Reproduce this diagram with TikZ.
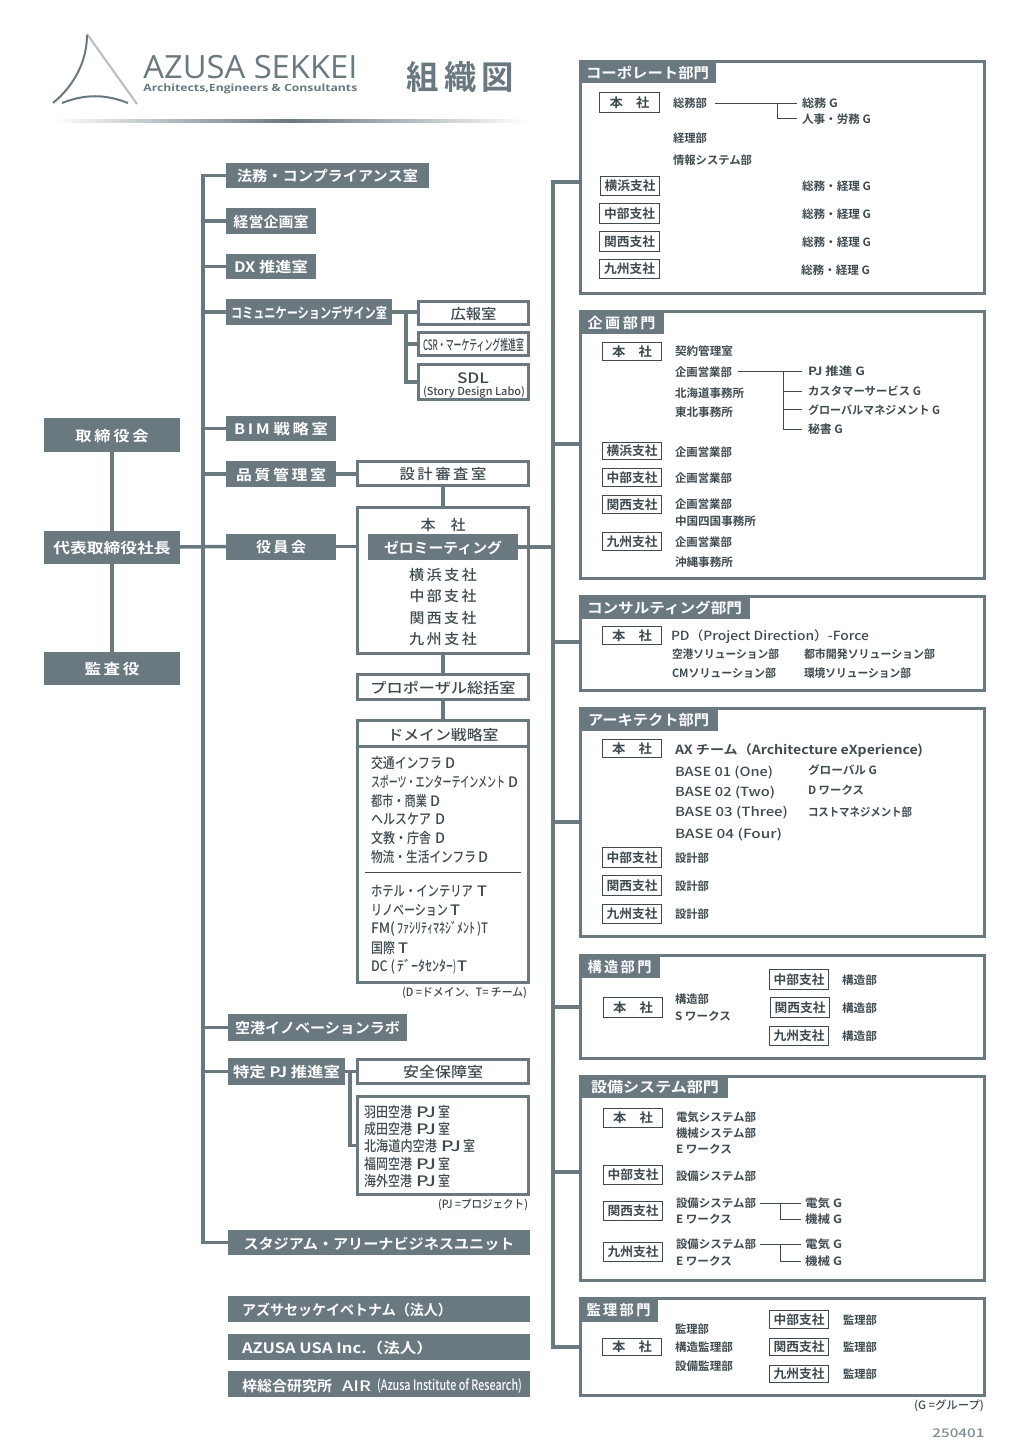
\documentclass[tikz,border=0pt]{standalone}
\usepackage{graphicx}
\usepackage{fontspec}
\setmainfont{Noto Sans CJK JP Medium}[BoldFont={Noto Sans CJK JP Bold}]
\newfontfamily\logofont{Open Sans}
\definecolor{slate}{HTML}{6A7880}
\definecolor{ink}{HTML}{3F4A50}
\definecolor{pale}{HTML}{B9BDBF}
\newdimen\pxu \pxu=0.5pt
\def\vadj{0pt}
\newcommand\tw[2]{\raisebox{\vadj}[\height][\depth]{\resizebox{#1\pxu}{\height}{#2}}}
\newcommand\hs[1]{\hspace{#1\pxu}}
\newcommand\fsA{\fontsize{5.7}{7}\selectfont\bfseries\def\vadj{0pt}}
\newcommand\fsB{\fontsize{6.3}{8}\selectfont\bfseries\def\vadj{0pt}}
\newcommand\fsC{\fontsize{7.2}{9}\selectfont\bfseries\def\vadj{-0.5pt}}
\newcommand\fsD{\fontsize{7.2}{9}\selectfont\def\vadj{-0.5pt}}
\newcommand\rawbox[8]{%
 \pgfmathsetmacro\myCx{(#4+#6)/2}\pgfmathsetmacro\myCy{(#5+#7)/2}%
 \pgfmathsetmacro\myWw{(#6-#4-#2)*0.5}\pgfmathsetmacro\myHh{(#7-#5-#2)*0.5}%
 \node[#1,minimum width=\myWw pt,minimum height=\myHh pt,inner sep=0,outer sep=0] (#3) at (\myCx,\myCy) {#8};}
\newcommand\band[6]{\rawbox{bandbox}{0}{#1}{#2}{#3}{#4}{#5}{#6}}
\newcommand\framed[6]{\rawbox{framebox}{3}{#1}{#2}{#3}{#4}{#5}{#6}}
\newcommand\smbx[6]{\rawbox{smallbox}{1}{#1}{#2}{#3}{#4}{#5}{#6}}
\newcommand\tx[6][]{\node[lab,#1] (#2) at (#3,#4) {\tw{#5}{#6}};}
\newcommand\tn[5][plainlab]{\node[#1] (#2) at (#3,#4) {#5};}
\newcommand\pjline[4]{\tn{#1}{364}{#2}{\tw{#3}{#4}\hs{4}\tw{20}{PJ}\hs{2}\tw{12}{室}}}
\tikzset{
 bandbox/.style={fill=slate,text=white,font=\fsC},
 framebox/.style={draw=slate,line width=1.5pt,text=ink,font=\fsD},
 smallbox/.style={draw=ink,line width=0.5pt,fill=white,text=ink,font=\fsB},
 lab/.style={anchor=west,inner sep=0,outer sep=0,text=ink,font=\fsA},
 plainlab/.style={anchor=west,inner sep=0,outer sep=0,text=ink,font=\fsD},
 cn/.style={anchor=center},
 whitelab/.style={text=white,font=\fsC},
 wire/.style={draw=slate,line width=1.75pt},
 thinwire/.style={draw=ink,line width=0.45pt}
}
\begin{document}
\begin{tikzpicture}[x=0.5pt,y=-0.5pt]
\useasboundingbox (0,0) rectangle (1027,1454);
% logo
\draw[pale,line width=1pt] (87,34) -- (137,104);
\draw[slate,line width=1pt] (87,35) .. controls (87,60) and (75,85) .. (53,103);
\draw[slate,line width=1pt] (62,103) .. controls (85,94) and (105,94) .. (128,103);
\node[anchor=west,inner sep=0,text=slate,font=\logofont\fontsize{16}{18}\selectfont] (logoA) at (143,67) {\tw{214}{AZUSA SEKKEI}};
\node[anchor=west,inner sep=0,text=slate,font=\logofont\fontsize{5}{6}\selectfont\bfseries] (logoB) at (143,89) {\tw{214}{Architects,Engineers \& Consultants}};
\node[anchor=west,inner sep=0,text=slate,font=\fontsize{16.5}{18}\selectfont\bfseries] (orgtitle) at (406,77) {\tw{108}{組\,織\,図}};
\shade[left color=white,right color=white,middle color=slate] (52,119.5) rectangle (528,122.5);
% left column
\band{torishimari}{44}{418}{180}{452}{\tw{73}{取\,締\,役\,会}}
\band{president}{44}{530.5}{180}{563.5}{\tw{117}{代表取締役社長}}
\band{auditor}{44}{652}{180}{685}{\tw{55}{監\,査\,役}}
% staff offices
\band{legal}{226}{163}{429}{188}{\tw{181}{法務・コンプライアンス室}\hs{2}}
\band{mgmt}{226}{208}{316}{234}{\tw{75}{経営企画室}\hs{2}}
\band{dx}{226}{254}{316}{279}{\tw{74}{DX 推進室}\hs{2}}
\band{comm}{226}{299}{392}{325}{\tw{156}{コミュニケーションデザイン室}\hs{4}}
\framed{pr}{417}{300}{530}{326}{\tw{46}{広報室}}
\framed{csr}{417}{331}{530}{357}{\tw{101}{CSR・マーケティング推進室}}
\framed{sdl}{417}{363}{530}{401}{}
\node[plainlab,cn] (sdlA) at (473,377) {\tw{32}{SDL}};
\node[plainlab,cn,font=\fontsize{5.5}{6}\selectfont] (sdlB) at (474,392) {\tw{102}{(Story Design Labo)}};
\band{bim}{226}{416}{336}{441}{\tw{94}{B\,I\,M 戦\,略\,室}}
\band{quality}{226}{461}{336}{487}{\tw{90}{品\,質\,管\,理\,室}}
\framed{review}{356}{460}{530}{487}{\tw{87}{設\,計\,審\,査\,室}}
\band{officers}{226}{533.5}{336}{559.5}{\tw{50}{役\,員\,会}}
\framed{hq}{356}{506}{530}{655}{}
\node[plainlab,cn] (hqA) at (443,524) {\tw{45}{本\hspace{1em}社}};
\band{zero}{368}{534}{518}{560}{\tw{118}{ゼロミーティング}}
\node[plainlab,cn] (hqB) at (443,574) {\tw{68}{横\,浜\,支\,社}};
\node[plainlab,cn] (hqC) at (443,595) {\tw{67}{中\,部\,支\,社}};
\node[plainlab,cn] (hqD) at (443,617) {\tw{67}{関\,西\,支\,社}};
\node[plainlab,cn] (hqE) at (443,638) {\tw{68}{九\,州\,支\,社}};
\framed{proposal}{356}{673}{530}{701}{\tw{145}{プロポーザル総括室}}
\framed{domain}{356}{719}{530}{984}{}
\draw[wire,line width=1.5pt] (357,746) -- (529,746);
\node[plainlab,cn] (domT) at (443,734) {\tw{111}{ドメイン戦略室}};
\tn{d1}{371}{762}{\tw{71}{交通インフラ}\hs{3}\tw{10}{D}}
\tn{d2}{371}{781}{\tw{134}{スポーツ・エンターテインメント}\hs{3}\tw{10}{D}}
\tn{d3}{371}{800}{\tw{56}{都市・商業}\hs{3}\tw{10}{D}}
\tn{d4}{371}{818}{\tw{60}{ヘルスケア}\hs{4}\tw{10}{D}}
\tn{d5}{371}{837}{\tw{60}{文教・庁舎}\hs{4}\tw{10}{D}}
\tn{d6}{371}{856}{\tw{105}{物流・生活インフラ}\hs{2}\tw{10}{D}}
\draw[ink,line width=0.3pt] (365,872.5) -- (521,872.5);
\tn{t1}{371}{890}{\tw{102}{ホテル・インテリア}\hs{4}\tw{10}{T}}
\tn{t2}{371}{909}{\tw{77}{リノベーション}\hs{2}\tw{10}{T}}
\tn{t3}{371}{928}{\tw{24}{FM(}\hs{2}\tw{78}{ﾌｧｼﾘﾃｨﾏﾈｼﾞﾒﾝﾄ}\hs{2}\tw{11}{)T}}
\tn{t4}{371}{947}{\tw{24}{国際}\hs{3}\tw{10}{T}}
\tn{t5}{371}{966}{\tw{24}{DC (}\hs{2}\tw{56}{ﾃﾞｰﾀｾﾝﾀｰ}\tw{3}{)}\hs{1}\tw{10}{T}}
\tx{domnote}{402}{993}{125}{\mdseries (D =ドメイン、T= チーム)}
\band{lab2}{228}{1014}{407}{1041}{\tw{165}{空港イノベーションラボ}\hs{6}}
\band{pjoffice}{228}{1058}{345}{1085}{\tw{107}{特定 PJ 推進室}\hs{2}}
\framed{safety}{356}{1058}{530}{1085}{\tw{80}{安全保障室}}
\framed{pjlist}{356}{1095}{530}{1196}{}
\pjline{p1}{1111}{48}{羽田空港}
\pjline{p2}{1128}{48}{成田空港}
\pjline{p3}{1145}{73}{北海道内空港}
\pjline{p4}{1163}{48}{福岡空港}
\pjline{p5}{1180}{48}{海外空港}
\tx{pjnote}{438}{1205}{90}{\mdseries (PJ =プロジェクト)}
\band{stadium}{228}{1230}{530}{1255}{\tw{271}{スタジアム・アリーナビジネスユニット}\hs{4}}
\band{vietnam}{228}{1296}{530}{1322}{}
\tx[whitelab]{vietnamT}{242}{1309}{210}{アズサセッケイベトナム（法人）}
\band{usa}{228}{1334}{530}{1360}{}
\tx[whitelab]{usaT}{242}{1347}{191}{AZUSA USA Inc.（法人）}
\band{air}{228}{1371}{530}{1397}{}
\tx[whitelab]{airA}{242}{1385}{90}{梓総合研究所}
\tx[whitelab,font=\fsD]{airB}{342}{1385}{29}{AIR}
\tx[whitelab,font=\fsD]{airC}{377}{1385}{145}{(Azusa Institute of Research)}
% divisions
\framed{corp}{579}{60}{986}{295}{}
\band{corpT}{579}{60}{716}{83}{\tw{123}{コーポレート部門}\hs{2}}
\smbx{corpA}{599}{92}{660}{113}{\tw{40}{本\hspace{1em}社}}
\smbx{corpB}{600}{176}{660}{196}{\tw{51}{横浜支社}}
\smbx{corpC}{599}{203}{660}{224}{\tw{51}{中部支社}}
\smbx{corpD}{599}{231}{660}{252}{\tw{51}{関西支社}}
\smbx{corpE}{599}{259}{660}{279}{\tw{51}{九州支社}}
\tx{c1}{673}{103}{34}{総務部}
\tx{c2}{673}{138}{34}{経理部}
\tx{c3}{673}{160}{79}{情報システム部}
\tx{c4}{802}{103}{36}{総務 G}
\tx{c5}{802}{119}{69}{人事・労務 G}
\tx{c6}{802}{186}{69}{総務・経理 G}
\tx{c7}{802}{214}{69}{総務・経理 G}
\tx{c8}{802}{242}{69}{総務・経理 G}
\tx{c9}{801}{270}{69}{総務・経理 G}
\coordinate (cj) at (777,103);
\draw[thinwire] (715,103) -- (797,103);
\draw[thinwire] (cj) |- (797,118);
%
\framed{plan}{579}{310}{986}{580}{}
\band{planT}{579}{310}{664}{334}{\tw{68}{企\,画\,部\,門}}
\smbx{planA}{602}{342}{662}{361}{\tw{40}{本\hspace{1em}社}}
\smbx{planB}{602}{442}{662}{460}{\tw{51}{横浜支社}}
\smbx{planC}{602}{468}{662}{487}{\tw{51}{中部支社}}
\smbx{planD}{602}{495}{662}{514}{\tw{51}{関西支社}}
\smbx{planE}{602}{532}{662}{551}{\tw{51}{九州支社}}
\tx{k1}{675}{351}{58}{契約管理室}
\tx{k2}{675}{372}{57}{企画営業部}
\tx{k3}{675}{393}{69}{北海道事務所}
\tx{k4}{675}{412}{58}{東北事務所}
\tx{k5}{675}{452}{57}{企画営業部}
\tx{k6}{675}{478}{57}{企画営業部}
\tx{k7}{675}{504}{57}{企画営業部}
\tx{k8}{675}{521}{81}{中国四国事務所}
\tx{k9}{675}{542}{57}{企画営業部}
\tx{k10}{675}{562}{58}{沖縄事務所}
\tx{k11}{808}{371}{57}{PJ 推進 G}
\tx{k12}{808}{391}{113}{カスタマーサービス G}
\tx{k13}{808}{410}{132}{グローバルマネジメント G}
\tx{k14}{808}{429}{35}{秘書 G}
\coordinate (kj) at (783,371);
\draw[thinwire] (738,371) -- (802,371);
\draw[thinwire] (kj) |- (802,429);
\draw[thinwire] (783,391) -- (802,391);
\draw[thinwire] (783,409) -- (802,409);
%
\framed{cons}{579}{595}{986}{692}{}
\band{consT}{579}{595}{750}{619}{\tw{155}{コンサルティング部門}}
\smbx{consA}{602}{626}{662}{645}{\tw{40}{本\hspace{1em}社}}
\tx{n1}{671}{636.5}{198}{\fsB\mdseries PD（Project Direction）-Force}
\tx{n2}{672}{654}{107}{空港ソリューション部}
\tx{n3}{804}{654}{131}{都市開発ソリューション部}
\tx{n4}{672}{673}{104}{CMソリューション部}
\tx{n5}{804}{673}{107}{環境ソリューション部}
%
\framed{arch}{579}{707}{986}{938}{}
\band{archT}{579}{707}{718}{731}{\tw{121}{アーキテクト部門}\hs{1}}
\smbx{archA}{602}{739}{662}{758}{\tw{40}{本\hspace{1em}社}}
\smbx{archB}{602}{847}{662}{868}{\tw{51}{中部支社}}
\smbx{archC}{602}{875}{662}{896}{\tw{51}{関西支社}}
\smbx{archD}{602}{904}{662}{924}{\tw{51}{九州支社}}
\tx{a1}{675}{750}{248}{\fsB AX チーム（Architecture eXperience)}
\tx{a2}{675}{772.5}{98}{\fsB\mdseries BASE 01 (One)}
\tx{a3}{675}{792.5}{100}{\fsB\mdseries BASE 02 (Two)}
\tx{a4}{675}{812.5}{113}{\fsB\mdseries BASE 03 (Three)}
\tx{a5}{675}{834.5}{107}{\fsB\mdseries BASE 04 (Four)}
\tx{a6}{808}{770}{69}{グローバル G}
\tx{a7}{808}{790}{56}{D ワークス}
\tx{a8}{808}{812}{104}{コストマネジメント部}
\tx{a9}{675}{858}{34}{設計部}
\tx{a10}{675}{886}{34}{設計部}
\tx{a11}{675}{914}{34}{設計部}
%
\framed{struct}{579}{954}{986}{1060}{}
\band{structT}{579}{954}{660}{978}{\tw{64}{構\,造\,部\,門}\hs{1}}
\smbx{structA}{603}{997}{663}{1018}{\tw{40}{本\hspace{1em}社}}
\smbx{structB}{769}{969}{829}{990}{\tw{51}{中部支社}}
\smbx{structC}{770}{997}{830}{1018}{\tw{51}{関西支社}}
\smbx{structD}{769}{1026}{829}{1046}{\tw{51}{九州支社}}
\tx{s1}{675}{999}{34}{構造部}
\tx{s2}{675}{1016}{56}{S ワークス}
\tx{s3}{842}{980}{35}{構造部}
\tx{s4}{842}{1008}{35}{構造部}
\tx{s5}{842}{1036}{35}{構造部}
%
\framed{equip}{579}{1075}{986}{1282}{}
\band{equipT}{579}{1075}{728}{1098}{\hs{3}\tw{128}{設備システム部門}}
\smbx{equipA}{603}{1108}{663}{1128}{\tw{40}{本\hspace{1em}社}}
\smbx{equipB}{603}{1165}{663}{1185}{\tw{51}{中部支社}}
\smbx{equipC}{603}{1201}{663}{1221}{\tw{51}{関西支社}}
\smbx{equipD}{603}{1242}{663}{1262}{\tw{51}{九州支社}}
\tx{e1}{676}{1117}{80}{電気システム部}
\tx{e2}{676}{1133}{80}{機械システム部}
\tx{e3}{676}{1149}{56}{E ワークス}
\tx{e4}{676}{1176}{80}{設備システム部}
\tx{e5}{676}{1203}{80}{設備システム部}
\tx{e6}{676}{1219}{56}{E ワークス}
\tx{e7}{676}{1244}{80}{設備システム部}
\tx{e8}{676}{1261}{56}{E ワークス}
\tx{e9}{805}{1203}{37}{電気 G}
\tx{e10}{805}{1219}{37}{機械 G}
\tx{e11}{805}{1244}{37}{電気 G}
\tx{e12}{805}{1261}{37}{機械 G}
\coordinate (ej1) at (780,1203);
\coordinate (ej2) at (780,1244);
\draw[thinwire] (760,1203) -- (801,1203);
\draw[thinwire] (ej1) |- (801,1219);
\draw[thinwire] (760,1244) -- (801,1244);
\draw[thinwire] (ej2) |- (801,1261);
%
\framed{sup}{579}{1297}{986}{1397}{}
\band{supT}{579}{1297}{658}{1322}{\tw{64}{監\,理\,部\,門}}
\smbx{supA}{602}{1338}{662}{1356}{\tw{40}{本\hspace{1em}社}}
\smbx{supB}{769}{1310}{829}{1329}{\tw{51}{中部支社}}
\smbx{supC}{769}{1338}{829}{1356}{\tw{51}{関西支社}}
\smbx{supD}{769}{1365}{829}{1383}{\tw{51}{九州支社}}
\tx{u1}{675}{1329}{34}{監理部}
\tx{u2}{675}{1347}{58}{構造監理部}
\tx{u3}{675}{1366}{58}{設備監理部}
\tx{u4}{843}{1320}{34}{監理部}
\tx{u5}{843}{1347}{34}{監理部}
\tx{u6}{843}{1374}{34}{監理部}
\tx{gnote}{914}{1406}{70}{\mdseries (G =グループ)}
\node[anchor=west,inner sep=0,text=slate!85,font=\fontsize{6}{7}\selectfont] (dateT) at (932,1433) {\tw{52}{250401}};
% connectors
\draw[wire] (torishimari.south) -- (president.north);
\draw[wire] (president.south) -- (auditor.north);
\coordinate (ltrunk) at (203,175);
\coordinate (rtrunk) at (553,182);
\draw[wire] (legal.west) -| (ltrunk |- stadium.west) -- (stadium.west);
\foreach \n in {mgmt,dx,comm,bim,quality,lab2,pjoffice}
  \draw[wire] (\n.west) -- (\n.west -| ltrunk);
\draw[wire] (president.east) -- (officers.west);
\draw[wire] (comm.east) -- (comm.east -| pr.west);
\coordinate (cv) at (406,312);
\draw[wire] (cv) |- (csr.west);
\draw[wire] (cv) |- (sdl.west);
\draw[wire] (quality.east) -- (quality.east -| review.west);
\draw[wire] (review.south) -- (hq.north);
\draw[wire] (officers.east) -- (officers.east -| hq.west);
\draw[wire] (zero.east) -- (zero.east -| rtrunk);
\draw[wire] (hq.south) -- (proposal.north);
\draw[wire] (proposal.south) -- (domain.north);
\draw[wire] (pjoffice.east) -- (safety.west);
\coordinate (pv) at (350,1072);
\draw[wire] (pv) |- (pjlist.west);
\coordinate (r1) at (579,182);
\coordinate (r2) at (579,444);
\coordinate (r3) at (579,642);
\coordinate (r4) at (579,822);
\coordinate (r5) at (579,1007);
\coordinate (r6) at (579,1172);
\coordinate (r7) at (579,1347);
\draw[wire] (r1) -| (rtrunk |- r7) -- (r7);
\foreach \n in {r2,r3,r4,r5,r6}
  \draw[wire] (\n) -- (\n -| rtrunk);
\end{tikzpicture}
\end{document}
